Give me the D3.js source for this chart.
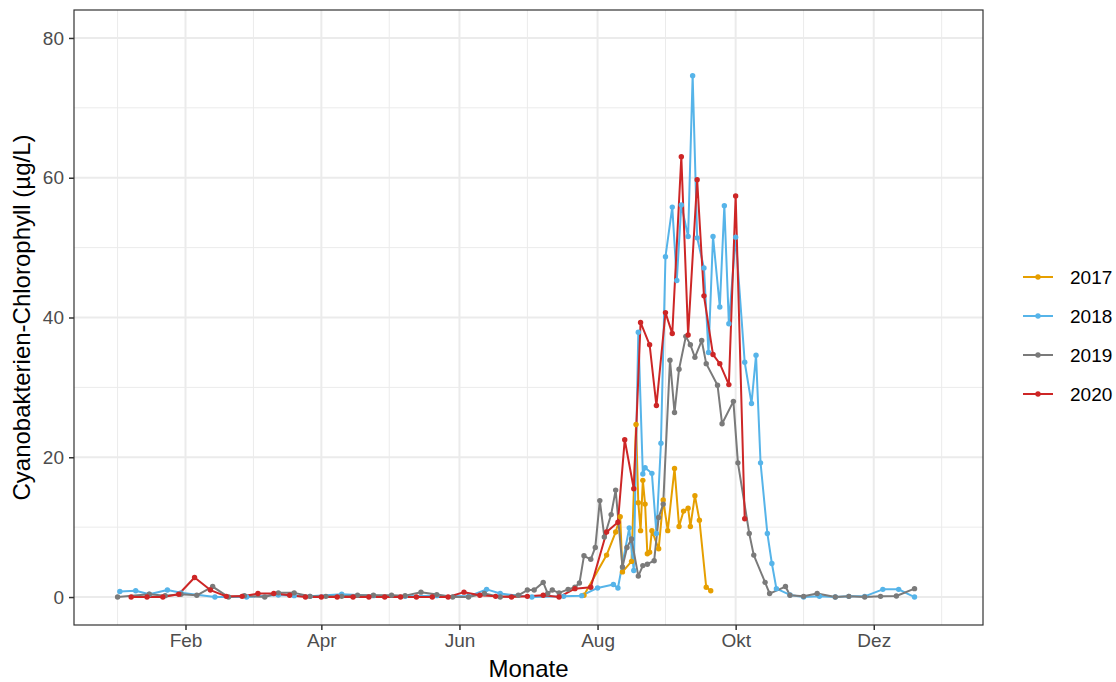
<!DOCTYPE html>
<html>
<head>
<meta charset="utf-8">
<script src="https://cdn.jsdelivr.net/npm/d3@7"></script>
<style>
  body { margin: 0; background: #fff; }
  text { font-family: "Liberation Sans", Arial, sans-serif; }
</style>
</head>
<body>
<div id="chart"></div>
<script>
// days since 1 January, one array pair per year
const years = ['2017', '2018', '2019', '2020']
const colors = ['#E69F00', '#56B4E9', '#7A7A7A', '#CD2626']

const days2017 = [207, 217, 221, 223, 224, 228, 230, 231, 232, 233, 234, 235, 236, 237, 240, 242, 244, 247, 249, 251, 253, 254, 256, 258, 261, 263]
const values2017 = [0.25, 6.0, 9.3, 11.5, 3.6, 5.1, 24.7, 13.5, 9.5, 16.7, 13.3, 6.2, 6.4, 9.5, 6.9, 13.9, 9.5, 18.4, 10.1, 12.3, 12.7, 10.1, 14.5, 11.0, 1.4, 0.9]

const days2018 = [2, 9, 15, 23, 29, 44, 58, 72, 79, 86, 100, 114, 128, 142, 156, 164, 170, 184, 198, 206,
  213, 220, 222, 227, 229, 231, 233, 234, 237, 239, 241, 243, 246, 248, 250, 253, 255, 257, 260, 262,
  264, 267, 269, 271, 274, 278, 281, 283, 285, 288, 290, 292, 298, 304, 311, 318, 324, 331, 339, 346, 353]
const values2018 = [0.8, 0.9, 0.4, 1.0, 0.6, 0.0, 0.0, 0.3, 0.2, 0.1, 0.4, 0.2, 0.1, 0.2, 0.1, 1.1, 0.5, 0.0, 0.1, 0.2,
  1.3, 1.8, 1.3, 9.9, 3.8, 37.9, 17.6, 18.5, 17.7, 9.1, 22.0, 48.7, 55.8, 45.3, 56.1, 51.6, 74.6, 51.4, 47.1, 35.0,
  51.6, 41.5, 56.0, 39.1, 51.5, 33.6, 27.7, 34.6, 19.2, 9.1, 4.8, 1.2, 0.3, 0.0, 0.1, 0.0, 0.1, 0.1, 1.1, 1.1, 0.0]

const days2019 = [1, 15, 22, 29, 36, 43, 50, 57, 66, 72, 79, 86, 93, 100, 107, 114, 122, 128, 135, 142, 149, 156, 163, 170,
  178, 182, 185, 189, 191, 193, 196, 200, 203, 205, 207, 210, 212, 214, 216, 219, 221, 224, 226, 228, 231, 233, 235, 238,
  240, 242, 245, 247, 249, 252, 254, 256, 259, 261, 266, 268, 273, 275, 280, 282, 287, 289, 296, 298, 304, 310, 318, 324,
  331, 338, 345, 353]
const values2019 = [0.0, 0.4, 0.2, 0.4, 0.25, 1.5, 0.0, 0.2, 0.0, 0.6, 0.6, 0.1, 0.1, 0.1, 0.25, 0.25, 0.25, 0.2, 0.7, 0.35, 0.0, 0.0, 0.5, 0.0,
  0.25, 1.0, 1.0, 2.1, 0.5, 1.0, 0.6, 1.1, 1.4, 2.0, 5.9, 5.4, 7.1, 13.8, 8.6, 11.8, 15.3, 4.3, 7.1, 8.3, 3.0, 4.5, 4.7, 5.2,
  11.4, 13.3, 33.9, 26.4, 32.6, 37.3, 36.1, 34.3, 36.7, 33.4, 30.3, 24.8, 28.0, 19.2, 9.1, 6.0, 2.1, 0.5, 1.5, 0.25, 0.1, 0.5, 0.0, 0.1,
  0.0, 0.1, 0.15, 1.2]

const days2020 = [7, 14, 21, 28, 35, 42, 49, 56, 63, 70, 77, 84, 91, 98, 105, 112, 119, 126, 133, 140, 147, 154, 161, 168,
  175, 182, 189, 196, 203, 210, 217, 222, 225, 229, 232, 236, 239, 243, 246, 250, 253, 257, 260, 264, 267, 271, 274, 278]
const values2020 = [0.0, 0.0, 0.0, 0.4, 2.8, 1.0, 0.1, 0.1, 0.5, 0.5, 0.25, 0.0, 0.0, 0.0, 0.0, 0.0, 0.0, 0.0, 0.0, 0.0, 0.0, 0.7, 0.25, 0.1,
  0.0, 0.1, 0.25, 0.0, 1.2, 1.4, 9.3, 10.7, 22.5, 15.5, 39.3, 36.1, 27.4, 40.7, 37.7, 63.0, 37.5, 59.7, 43.1, 34.7, 33.4, 30.4, 57.4, 11.2]

const seriesDays = [days2017, days2018, days2019, days2020]
const seriesValues = [values2017, values2018, values2019, values2020]

const monthTicks = ['2020-02-01', '2020-04-01', '2020-06-01', '2020-08-01', '2020-10-01', '2020-12-01']
const monthLabels = ['Feb', 'Apr', 'Jun', 'Aug', 'Okt', 'Dez']
const yTicks = [0, 20, 40, 60, 80]

const width = 1116
const height = 682
const margin = { top: 10, right: 133, bottom: 57, left: 74 }

const parseDate = d3.timeParse('%Y-%m-%d')
const yearStart = new Date(2020, 0, 1)
const yearEnd = new Date(2020, 11, 31)
const toDate = d => d3.timeDay.offset(yearStart, d)

const series = years.map((year, i) => ({
  year,
  color: colors[i],
  points: seriesDays[i].map((d, j) => ({ date: toDate(d), value: seriesValues[i][j] })),
}))

// ggplot style 5% expansion
const span = yearEnd - yearStart
const x = d3.scaleTime()
  .domain([new Date(+yearStart - span * 0.05), new Date(+yearEnd + span * 0.05)])
  .range([margin.left, width - margin.right])

const y = d3.scaleLinear()
  .domain([-4, 84])
  .range([height - margin.bottom, margin.top])

const svg = d3.select('#chart')
  .append('svg')
    .attr('width', width)
    .attr('height', height)

const pLeft = margin.left
const pRight = width - margin.right
const pTop = margin.top
const pBottom = height - margin.bottom

// grid
const xMajor = monthTicks.map(parseDate)
const xMajorPx = xMajor.map(d => x(d))
const step = xMajorPx[1] - xMajorPx[0]
const xMinorPx = [xMajorPx[0] - step / 2, ...xMajorPx.map(p => p + step / 2)]
  .filter(p => p > pLeft && p < pRight)
const yMinor = yTicks.slice(0, -1).map(v => v + 10)

const grid = svg.append('g').attr('stroke', '#EBEBEB')

grid.selectAll('.ymin')
  .data(yMinor)
  .enter()
  .append('line')
    .attr('x1', pLeft).attr('x2', pRight)
    .attr('y1', d => y(d)).attr('y2', d => y(d))
    .attr('stroke-width', 1)

grid.selectAll('.xmin')
  .data(xMinorPx)
  .enter()
  .append('line')
    .attr('x1', d => d).attr('x2', d => d)
    .attr('y1', pTop).attr('y2', pBottom)
    .attr('stroke-width', 1)

grid.selectAll('.ymaj')
  .data(yTicks)
  .enter()
  .append('line')
    .attr('x1', pLeft).attr('x2', pRight)
    .attr('y1', d => y(d)).attr('y2', d => y(d))
    .attr('stroke-width', 2)

grid.selectAll('.xmaj')
  .data(xMajor)
  .enter()
  .append('line')
    .attr('x1', d => x(d)).attr('x2', d => x(d))
    .attr('y1', pTop).attr('y2', pBottom)
    .attr('stroke-width', 2)

// lines, then points
const line = d3.line()
  .x(d => x(d.date))
  .y(d => y(d.value))

svg.append('g')
  .selectAll('path')
  .data(series)
  .enter()
  .append('path')
    .attr('d', d => line(d.points))
    .attr('fill', 'none')
    .attr('stroke', d => d.color)
    .attr('stroke-width', 2)
    .attr('stroke-linejoin', 'round')

series.forEach(s => {
  svg.append('g')
    .selectAll('circle')
    .data(s.points)
    .enter()
    .append('circle')
      .attr('cx', d => x(d.date))
      .attr('cy', d => y(d.value))
      .attr('r', 2.7)
      .attr('fill', s.color)
})

// panel border
svg.append('rect')
  .attr('x', pLeft).attr('y', pTop)
  .attr('width', pRight - pLeft).attr('height', pBottom - pTop)
  .attr('fill', 'none')
  .attr('stroke', '#333333')
  .attr('stroke-width', 1.2)

// axes
const xAxis = svg.append('g')
  .attr('transform', `translate(0, ${pBottom})`)
  .call(d3.axisBottom(x).tickValues(xMajor).tickFormat((d, i) => monthLabels[i]).tickSize(5).tickPadding(4))

const yAxis = svg.append('g')
  .attr('transform', `translate(${pLeft}, 0)`)
  .call(d3.axisLeft(y).tickValues(yTicks).tickSize(5).tickPadding(5))

;[xAxis, yAxis].forEach(g => {
  g.select('.domain').remove()
  g.selectAll('line').attr('stroke', '#333333').attr('stroke-width', 1.5)
  g.selectAll('text')
    .attr('fill', '#4D4D4D')
    .style('font-size', '19px')
    .style('font-family', '"Liberation Sans", Arial, sans-serif')
})

svg.append('text')
  .attr('x', (pLeft + pRight) / 2)
  .attr('y', 677)
  .attr('text-anchor', 'middle')
  .style('font-size', '24px')
  .text('Monate')

svg.append('text')
  .attr('transform', `translate(30, ${(pTop + pBottom) / 2}) rotate(-90)`)
  .attr('text-anchor', 'middle')
  .style('font-size', '24px')
  .text('Cyanobakterien-Chlorophyll (µg/L)')

// legend
const legend = svg.append('g')
  .attr('transform', 'translate(1023, 277)')

const item = legend.selectAll('g')
  .data(series)
  .enter()
  .append('g')
    .attr('transform', (d, i) => `translate(0, ${i * 39})`)

item.append('line')
  .attr('x1', 0).attr('x2', 30)
  .attr('stroke', d => d.color)
  .attr('stroke-width', 2)

item.append('circle')
  .attr('cx', 15)
  .attr('r', 2.7)
  .attr('fill', d => d.color)

item.append('text')
  .attr('x', 47)
  .attr('dy', '0.35em')
  .style('font-size', '19px')
  .text(d => d.year)
</script>
</body>
</html>
